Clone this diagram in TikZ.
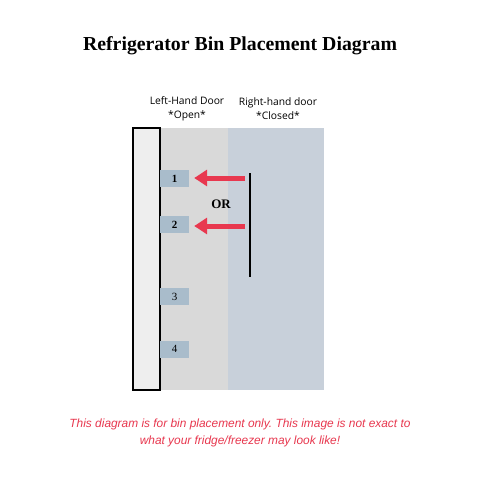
\documentclass[tikz,border=0pt]{standalone}
\usepackage{fontspec}
\setmainfont{Liberation Serif}
\newfontfamily\labelfont{Open Sans}
\newfontfamily\notefont{Liberation Sans}
\usetikzlibrary{arrows.meta}
\usetikzlibrary{calc}
\frenchspacing

\definecolor{doorwhite}{HTML}{EEEEEE}
\definecolor{leftgray}{HTML}{D9D9D9}
\definecolor{rightblue}{HTML}{C8D0DA}
\definecolor{binblue}{HTML}{A9BCCB}
\definecolor{notered}{HTML}{E8384F}

\tikzset{
  bin/.style={fill=binblue, minimum width=29pt, minimum height=17pt, inner sep=0pt, font=\fontsize{11}{13}\selectfont},
  redarrow/.style={notered, line width=5pt, -{Triangle[length=13pt,width=16pt]}, shorten >=5pt},
  doorlabel/.style={font=\labelfont\fontsize{10.3}{14}\selectfont, align=center}
}

\begin{document}
\begin{tikzpicture}[x=1pt, y=-1pt]
      \useasboundingbox[fill=white] (0,0) rectangle (480,480);

      \node[font=\fontsize{19.8}{24}\selectfont\bfseries] (title) at (240,46) {Refrigerator Bin Placement Diagram};

      \fill[leftgray] (160,128) rectangle (228,390);
      \fill[rightblue] (228,128) rectangle (324,390);
      \draw[fill=doorwhite, line width=1.2pt] (133,128) rectangle (160,390);

      \node[doorlabel] (open) at (187,109) {Left-Hand Door\\*Open*};
      \node[doorlabel] (closed) at (278,109) {Right-hand door\\*Closed*};

      \foreach \n/\y in {1/178.5, 2/224.5}
        \node[bin, font=\fontsize{11}{13}\selectfont\bfseries] (b\n) at (174.5,\y) {\n};
      \foreach \n/\y in {3/296.5, 4/349}
        \node[bin] (b\n) at (174.5,\y) {\n};

      \node[font=\fontsize{13}{15}\selectfont\bfseries] (or) at (221,204) {OR};

      \coordinate (a1) at (245,178);
      \coordinate (a2) at (245,226);
      \draw[redarrow] (a1) -- (b1.east |- a1);
      \draw[redarrow] (a2) -- (b2.east |- a2);

      \coordinate (top) at (250,173);
      \coordinate (bottom) at (250,277);
      \draw[line width=2pt] (top) -- (bottom);

      \node[font=\notefont\itshape\fontsize{11.9}{17}\selectfont, text=notered, align=center] (note) at (240,433)
        {This diagram is for bin placement only. This image is not exact to\\what your fridge/freezer may look like!};
    \end{tikzpicture}
\end{document}
